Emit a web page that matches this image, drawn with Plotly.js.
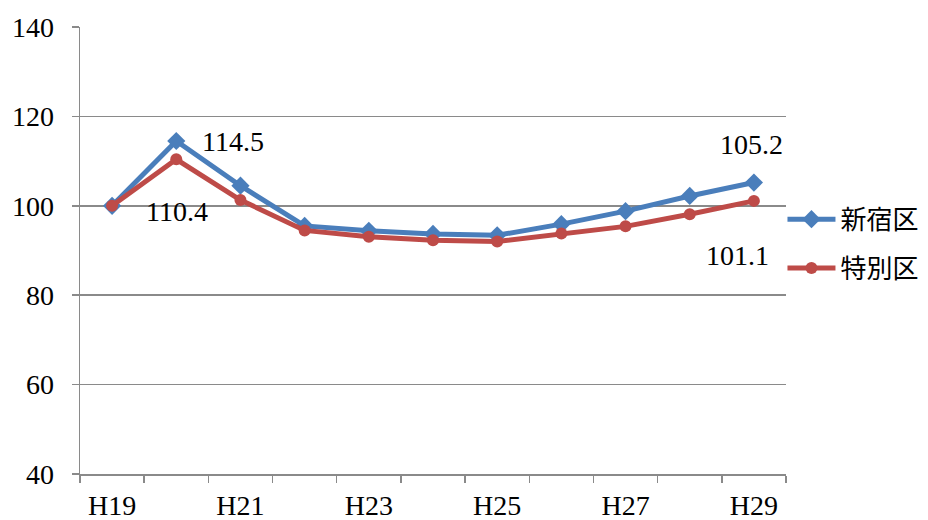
<!DOCTYPE html>
<html>
<head>
<meta charset="utf-8">
<script src="https://cdn.plot.ly/plotly-3.0.1.min.js"></script>
<style>html,body{margin:0;padding:0;background:#fff;}#chart{width:928px;height:520px;}</style>
</head>
<body>
<div id="chart"></div>
<script>
const categories = ["H19","H20","H21","H22","H23","H24","H25","H26","H27","H28","H29"];
const tickLabels = ["H19","","H21","","H23","","H25","","H27","","H29"];
const seriesNames = ["新宿区","特別区"];
const shinjuku = [100, 114.5, 104.5, 95.5, 94.4, 93.7, 93.4, 95.9, 98.8, 102.2, 105.2];
const tokubetsu = [100, 110.4, 101.3, 94.5, 93.1, 92.3, 92.0, 93.8, 95.4, 98.1, 101.1];
// labelled points: [series, category index]
const labelPoints = [[0,1],[1,1],[0,10],[1,10]];

const serif = "Liberation Serif";
const cjk = "Noto Sans CJK JP";
const blue = "#4a7ebb", red = "#be4b48", grey = "#8a8a8a";

const traces = [
  {x: categories, y: shinjuku, name: seriesNames[0], type: "scatter", mode: "lines+markers",
   line: {color: blue, width: 5}, marker: {symbol: "diamond", size: 14, color: blue}, legendgroup: "a"},
  {x: categories, y: tokubetsu, name: seriesNames[1], type: "scatter", mode: "lines+markers",
   line: {color: red, width: 5}, marker: {symbol: "circle", size: 12, color: red}, legendgroup: "b"}
];

const offsets = [[57,1],[1,52],[-2,-38],[-16,55]];
const data = [shinjuku, tokubetsu];
const annotations = labelPoints.map((p, i) => ({
  x: categories[p[1]], y: data[p[0]][p[1]], xref: "x", yref: "y",
  text: data[p[0]][p[1]].toFixed(1), showarrow: true, arrowcolor: "rgba(0,0,0,0)",
  ax: offsets[i][0], ay: offsets[i][1], font: {family: serif, size: 28, color: "#000"}
}));

const layout = {
  width: 928, height: 520,
  margin: {l: 80, r: 142, t: 27, b: 46, autoexpand: false},
  paper_bgcolor: "#fff", plot_bgcolor: "#fff",
  font: {family: serif, size: 28, color: "#000"},
  xaxis: {type: "category", tickmode: "array", tickvals: categories, ticktext: tickLabels,
    tickson: "boundaries", ticks: "outside", ticklen: 7, tickcolor: grey, tickwidth: 1.5,
    showline: true, linecolor: grey, linewidth: 1.5, showgrid: false, zeroline: false,
    range: [-0.5, 10.5], tickfont: {family: serif, size: 28, color: "#000"}, ticklabelstandoff: 6},
  yaxis: {range: [40, 140], tickvals: [40,60,80,100,120,140], ticks: "outside", ticklen: 7,
    tickcolor: grey, tickwidth: 1.5, showline: true, linecolor: grey, linewidth: 1.5,
    showgrid: true, gridcolor: grey, gridwidth: 1.5, zeroline: false,
    tickfont: {family: serif, size: 28, color: "#000"}, ticklabelstandoff: 12},
  legend: {x: 0.995, xanchor: "left", y: 0.515, yanchor: "middle", traceorder: "grouped", tracegroupgap: 12,
    font: {family: cjk, size: 26, color: "#000"}, itemwidth: 48, bgcolor: "rgba(0,0,0,0)"},
  annotations: annotations,
  showlegend: true
};

Plotly.newPlot("chart", traces, layout, {displayModeBar: false, staticPlot: true});
</script>
</body>
</html>
